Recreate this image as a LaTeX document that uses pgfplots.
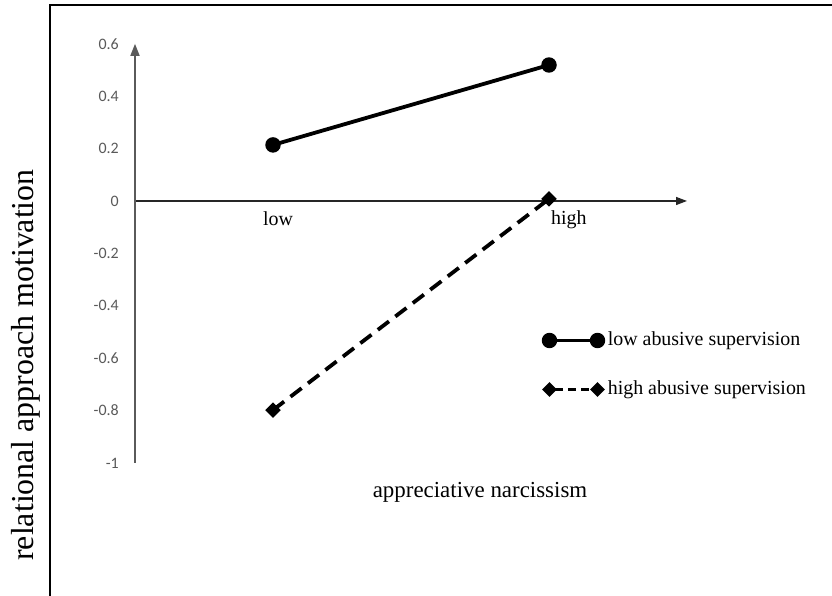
\documentclass[border=0pt]{standalone}
\usepackage{fontspec}
\setmainfont{Liberation Serif}
\newfontfamily\calibri{Carlito}
\usepackage{pgfplots}
\pgfplotsset{compat=1.18}
\usetikzlibrary{arrows.meta}
\definecolor{tickgray}{HTML}{595959}
\definecolor{axgray}{HTML}{5A5A5A}
\newcommand\tl[1]{\mbox{\calibri\fontsize{16}{18}\selectfont\color{tickgray}#1}}
\pgfplotsset{dashlegend/.style={legend image code/.code={\draw[##1, line width=3.2bp, dash pattern=on 8bp off 5bp, dash phase=-6bp] plot coordinates {(0bp,0bp) (48bp,0bp)};}}}
\begin{document}
\begin{tikzpicture}[x=1bp,y=1bp]
\path[use as bounding box] (0,0) rectangle (832,596);
\draw[line width=2.2bp] (50,0) -- (50,591) -- (832,591);
\begin{axis}[
  at={(135bp,133bp)}, anchor=south west,
  x=276bp, y=262bp,
  xmin=0, xmax=2, ymin=-1, ymax=0.6,
  enlargelimits=false, clip=false,
  axis x line=middle, axis y line=left,
  hide obscured y ticks=false, hide obscured x ticks=false,
  x axis line style={draw=black!85, line width=1.3bp, -{Triangle[length=11bp,width=8bp]}},
  y axis line style={draw=axgray, line width=1.6bp, -{Triangle[length=12bp,width=9bp]}},
  xtick=\empty,
  ytick={-1,-0.8,-0.6,-0.4,-0.2,0,0.2,0.4,0.6},
  yticklabels={\tl{-1},\tl{-0.8},\tl{-0.6},\tl{-0.4},\tl{-0.2},\tl{0},\tl{0.2},\tl{0.4},\tl{0.6}},
  major tick length=0pt,
  yticklabel style={inner sep=0pt, xshift=-16bp},
  legend style={at={(axis cs:1.48,-0.626)}, anchor=west, draw=none, fill=none, inner sep=0pt,
    row sep=30bp, font=\fontsize{20}{21}\selectfont,
    nodes={inner sep=0pt, text height=14bp, text depth=5bp},
    /tikz/every odd column/.append style={column sep=4.5bp}},
  legend cell align=left,
  legend image code/.code={\draw[#1] plot coordinates {(0bp,0bp) (48bp,0bp)};},
]
\addplot[black, line width=3.8bp, mark=*, mark size=5.8bp] coordinates {(0.5,0.214) (1.5,0.519)};
\addlegendentry{low abusive supervision}
\addplot[black, line width=3.8bp, dash pattern=on 14bp off 8bp, mark=square*, mark size=3.6bp, mark options={solid, rotate=45}, dashlegend]
  coordinates {(0.5,-0.798) (1.5,0.008)};
\addlegendentry{high abusive supervision}
\node[font=\fontsize{20}{20}\selectfont, anchor=base] at (axis cs:0.518,-0.092) {low};
\node[font=\fontsize{20}{20}\selectfont, anchor=base] at (axis cs:1.572,-0.088) {high};
\end{axis}
\node[anchor=base, font=\fontsize{23}{24}\selectfont] at (480,98) {appreciative narcissism};
\node[rotate=90, anchor=base, font=\fontsize{32}{32}\selectfont] at (33,231) {relational approach motivation};
\end{tikzpicture}
\end{document}
